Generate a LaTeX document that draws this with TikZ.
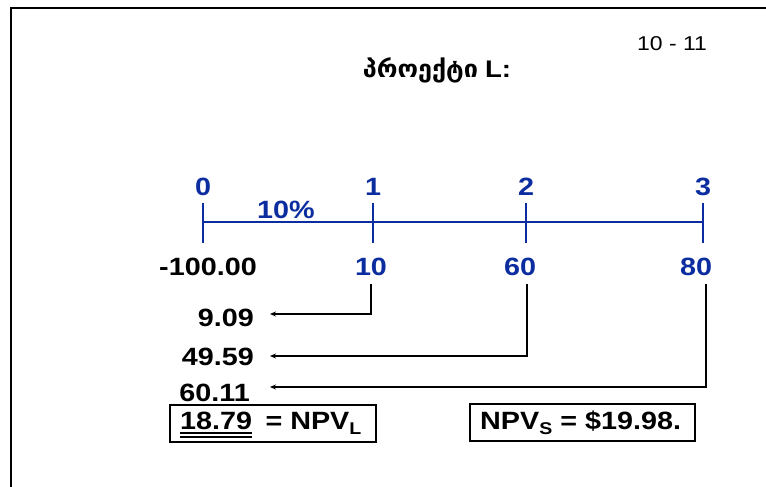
\documentclass[tikz,border=0pt]{standalone}
\usepackage{fontspec}
\setmainfont{Liberation Sans}[FakeStretch=1.15]
\newfontfamily\geofont{DejaVu Sans}[FakeStretch=1.05]
\usetikzlibrary{arrows.meta}
\definecolor{tlblue}{RGB}{12,45,160}
\tikzset{
  big/.style={font=\fontsize{25}{25}\selectfont\bfseries, inner sep=0pt},
  bl/.style={big, text=tlblue},
  tl/.style={draw=tlblue, line width=1.8pt},
  conn/.style={draw=black, line width=1.6pt, -{Stealth[length=6pt,width=5pt]}},
  boxf/.style={draw=black, line width=1.6pt, inner sep=0pt},
}
\newcommand\sbs[1]{\raisebox{-5pt}{\fontsize{17}{17}\selectfont #1}}
\begin{document}
\begin{tikzpicture}[x=1pt,y=-1pt]
\useasboundingbox (0,0) rectangle (766,487);
% frame
\draw[line width=2pt] (11,490) -- (11,8) -- (770,8);
% header
\node[font=\fontsize{20}{20}\selectfont, inner sep=0pt] (pg) at (672,44) {10 - 11};
\node[inner sep=0pt] (title) at (437,70) {{\geofont\bfseries\fontsize{24}{24}\selectfont პროექტი}\hspace{7pt}{\fontsize{24}{24}\selectfont\bfseries L:}};
% time labels
\node[bl] (t0) at (203,187) {0};
\node[bl] (t1) at (373,187) {1};
\node[bl] (t2) at (526,187) {2};
\node[bl] (t3) at (703,187) {3};
\node[bl] (rate) at (286,210) {10\%};
% timeline
\coordinate (k0) at (203,222);
\coordinate (k1) at (373,222);
\coordinate (k2) at (526,222);
\coordinate (k3) at (703,222);
\draw[tl] (k0) -- (k3);
\foreach \k in {k0,k1,k2,k3}{\draw[tl] ([yshift=-21pt]\k) -- ([yshift=19pt]\k);}
% cash flows
\node[big] (c0) at (208,267) {-100.00};
\node[bl] (c1) at (371,267) {10};
\node[bl] (c2) at (520,267) {60};
\node[bl] (c3) at (696,267) {80};
% present values
\node[big, anchor=east] (p1) at (254,318) {9.09};
\node[big, anchor=east] (p2) at (254,357) {49.59};
\node[big, anchor=east] (p3) at (250,393) {60.11};
\coordinate (s1) at (371,284);
\coordinate (s2) at (527,284);
\coordinate (s3) at (706,284);
\coordinate (e1) at (270,314);
\coordinate (e2) at (270,356);
\coordinate (e3) at (270,387);
\draw[conn] (s1) |- (e1);
\draw[conn] (s2) |- (e2);
\draw[conn] (s3) |- (e3);
% NPV L box
\node[boxf, minimum width=206pt, minimum height=37pt] (b1) at (273,423.5) {};
\node[big, anchor=base west] (n1) at (180,429) {18.79};
\node[big, anchor=base west] (n2) at ([xshift=13pt]n1.base east) {= NPV\sbs{L}};
\draw[line width=1.2pt] ([yshift=-4pt]n1.base west) -- ([yshift=-4pt]n1.base east);
\draw[line width=1.2pt] ([yshift=-8pt]n1.base west) -- ([yshift=-8pt]n1.base east);
% NPV S box
\node[boxf, minimum width=225pt, minimum height=37pt] (b2) at (582.5,422.5) {};
\node[big, anchor=base west] (n3) at (480,429) {NPV\sbs{S} = \$19.98.};
\end{tikzpicture}
\end{document}
